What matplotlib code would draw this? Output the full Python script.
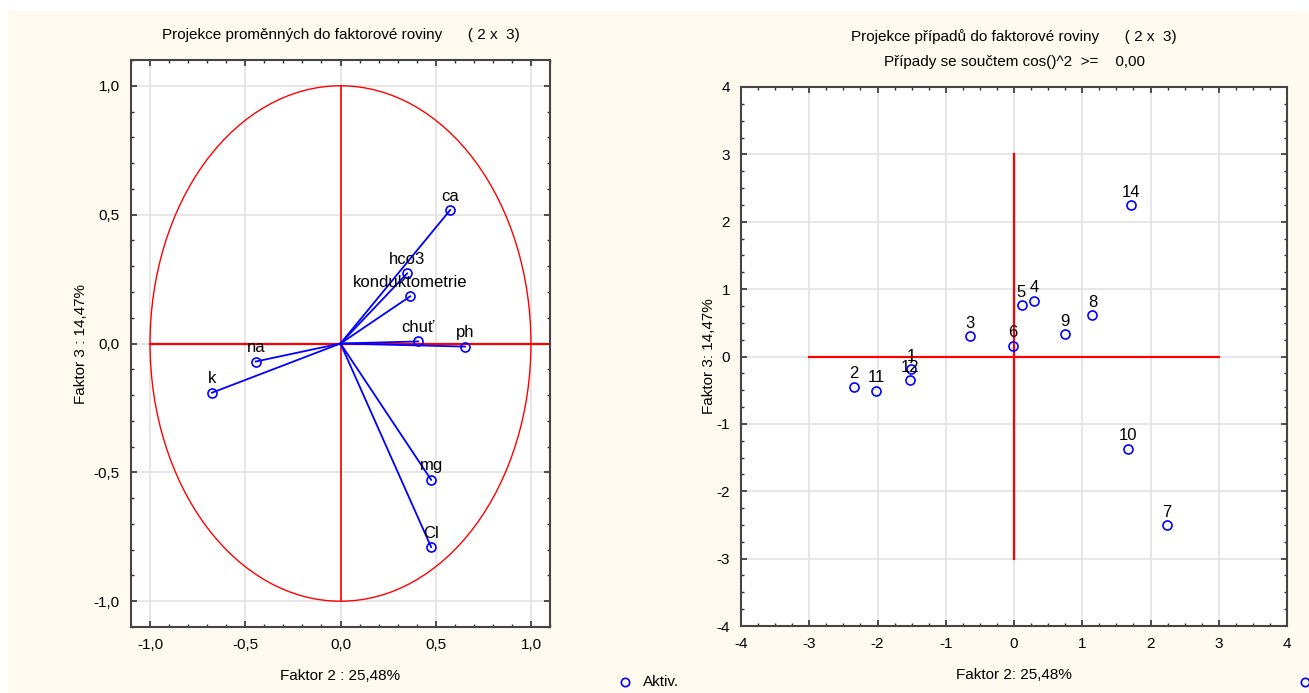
import matplotlib
matplotlib.use('Agg')
import matplotlib.pyplot as plt
import numpy as np
from matplotlib.patches import Ellipse, Rectangle
from matplotlib.lines import Line2D
from matplotlib.ticker import MultipleLocator, FuncFormatter

plt.rcParams['font.family'] = ['Liberation Sans', 'DejaVu Sans']
plt.rcParams['axes.unicode_minus'] = False

# variables: loadings on factor 2 / factor 3
var_names = ['ca', 'hco3', 'konduktometrie', 'chuť', 'ph', 'na', 'k', 'mg', 'Cl']
var_f2 = [0.576, 0.350, 0.366, 0.408, 0.654, -0.445, -0.675, 0.476, 0.476]
var_f3 = [0.518, 0.272, 0.183, 0.008, -0.012, -0.070, -0.191, -0.529, -0.790]

# cases: scores on factor 2 / factor 3
case_ids = ['1', '2', '3', '4', '5', '6', '7', '8', '9', '10', '11', '12', '14']
case_f2 = [-1.51, -2.34, -0.64, 0.29, 0.11, -0.02, 2.24, 1.15, 0.75, 1.67, -2.02, -1.53, 1.71]
case_f3 = [-0.19, -0.45, 0.30, 0.83, 0.76, 0.16, -2.50, 0.61, 0.33, -1.37, -0.51, -0.35, 2.25]

cream = '#FFFAF0'
blue = '#0000FF'
red = '#FF0000'
grid_c = '#E2E2E2'

fig = plt.figure(figsize=(13.09, 6.93), dpi=100)
fig.patch.set_facecolor('white')
fig.patches.append(Rectangle((8/1309, 0), 1, (693-11)/693, transform=fig.transFigure,
                             facecolor=cream, edgecolor='none', zorder=-10))

ax1 = fig.add_axes([131/1309, 66/693, 419/1309, 567/693])
ax2 = fig.add_axes([741/1309, 67/693, 546/1309, 539/693])

comma = FuncFormatter(lambda v, p: ('%.1f' % v).replace('.', ','))

for ax in (ax1, ax2):
    ax.set_facecolor('white')
    ax.tick_params(which='both', direction='in', top=True, right=True, color='#333333',
                   labelsize=11, pad=8)
    ax.tick_params(which='major', length=4, width=1.2)
    ax.tick_params(which='minor', length=2.5, width=1.0)
    ax.grid(True, color=grid_c, linewidth=1.2)
    ax.set_axisbelow(True)
    for s in ax.spines.values():
        s.set_color('#444444')
        s.set_linewidth(1.5)

# ---- left: variables on unit circle
ax1.set_xlim(-1.1, 1.1)
ax1.set_ylim(-1.1, 1.1)
ax1.xaxis.set_major_locator(MultipleLocator(0.5))
ax1.yaxis.set_major_locator(MultipleLocator(0.5))
ax1.xaxis.set_minor_locator(MultipleLocator(0.1))
ax1.yaxis.set_minor_locator(MultipleLocator(0.1))
ax1.xaxis.set_major_formatter(comma)
ax1.yaxis.set_major_formatter(comma)
ax1.add_patch(Ellipse((0, 0), 2, 2, fill=False, edgecolor=red, linewidth=1.0, zorder=2))
ax1.plot([-1, 1.1], [0, 0], color=red, linewidth=1.6, zorder=2)
ax1.plot([0, 0], [-1, 1], color=red, linewidth=1.2, zorder=2)
for name, x, y in zip(var_names, var_f2, var_f3):
    ax1.plot([0, x], [0, y], color=blue, linewidth=1.3, zorder=3)
    ax1.plot(x, y, 'o', mfc='none', mec=blue, ms=6.5, mew=1.2, zorder=4)
    ax1.text(x, y + 0.025, name, ha='center', va='bottom', fontsize=12, zorder=5)
ax1.set_title('Projekce proměnných do faktorové roviny      ( 2 x  3)', fontsize=11, pad=15)
ax1.set_xlabel('Faktor 2 : 25,48%', fontsize=11, labelpad=12)
ax1.set_ylabel('Faktor 3 : 14,47%', fontsize=11, labelpad=4)

# ---- right: cases
ax2.set_xlim(-4, 4)
ax2.set_ylim(-4, 4)
ax2.xaxis.set_major_locator(MultipleLocator(1))
ax2.yaxis.set_major_locator(MultipleLocator(1))
ax2.xaxis.set_minor_locator(MultipleLocator(0.25))
ax2.yaxis.set_minor_locator(MultipleLocator(0.25))
ax2.plot([-3, 3], [0, 0], color=red, linewidth=1.6, zorder=2)
ax2.plot([0, 0], [-3, 3], color=red, linewidth=1.6, zorder=2)
ax2.plot(case_f2, case_f3, 'o', mfc='none', mec=blue, ms=6.5, mew=1.2, zorder=4)
for lab, x, y in zip(case_ids, case_f2, case_f3):
    ax2.text(x, y + 0.08, lab, ha='center', va='bottom', fontsize=12, zorder=5)
ax2.set_title('Projekce případů do faktorové roviny      ( 2 x  3)\n'
              'Případy se součtem cos()^2  >=    0,00', fontsize=11, pad=15, linespacing=2.0)
ax2.set_xlabel('Faktor 2: 25,48%', fontsize=11, labelpad=12)
ax2.set_ylabel('Faktor 3: 14,47%', fontsize=11, labelpad=0)

# legends (outside the plots)
fig.add_artist(Line2D([625/1309], [1 - 682/693], marker='o', mfc='none', mec=blue,
                      ms=6, mew=1.2, transform=fig.transFigure))
fig.text(643/1309, 1 - 682/693, 'Aktiv.', fontsize=11, va='center', ha='left')
fig.add_artist(Line2D([1305/1309], [1 - 682/693], marker='o', mfc='none', mec=blue,
                      ms=6, mew=1.2, transform=fig.transFigure))

fig.savefig('out.png', dpi=100, facecolor=fig.get_facecolor())
